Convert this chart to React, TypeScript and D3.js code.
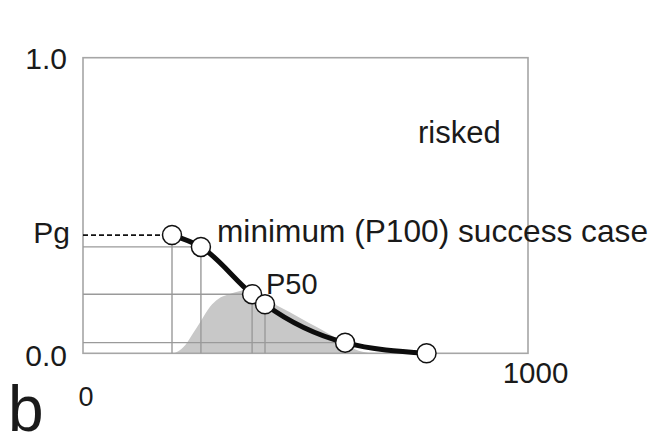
import React from "react";
import * as d3 from "d3";

// Data
const pointX = [200, 265, 380, 409, 589, 772];
const pointY = [0.4, 0.36, 0.2, 0.166, 0.036, 0];
const guideHorizontal = [1, 2, 4];
const guideVertical = [0, 1, 2, 3, 4];
const densityX = [206, 211, 230, 247, 266, 285, 304, 323, 340, 353, 365, 371, 390, 409, 437, 465, 493, 521, 550, 578, 595, 611, 628, 645];
const densityY = [0, 0.004, 0.028, 0.067, 0.112, 0.157, 0.184, 0.197, 0.206, 0.211, 0.214, 0.214, 0.201, 0.183, 0.161, 0.139, 0.115, 0.092, 0.068, 0.044, 0.028, 0.014, 0.005, 0];
const yTickLabels = ["0.0", "1.0"];
const yTickValues = [0, 1];
const xTickLabels = ["0", "1000"];
const pgLabel = "Pg";
const minLabel = "minimum (P100) success case";
const p50Label = "P50";
const riskedLabel = "risked";
const panelLabel = "b";

const W = 655;
const H = 435;
const FONT = "'Liberation Sans', Arial, sans-serif";

export default function App() {
  const x = d3.scaleLinear().domain([0, 1000]).range([83, 528]);
  const y = d3.scaleLinear().domain([0, 1]).range([353.3, 57.7]);

  const pts = pointX.map((v, i) => [v, pointY[i]] as [number, number]);
  const curve = d3
    .line<[number, number]>()
    .x((d) => x(d[0]))
    .y((d) => y(d[1]))
    .curve(d3.curveMonotoneX)(pts) as string;

  const dens = densityX.map((v, i) => [v, densityY[i]] as [number, number]);
  const area = d3
    .area<[number, number]>()
    .x((d) => x(d[0]))
    .y0(y(0))
    .y1((d) => y(d[1]))
    .curve(d3.curveMonotoneX)(dens) as string;

  const gridColor = "#9a9a9a";
  const textColor = "#1a1a1a";

  return (
    <svg
      width={W}
      height={H}
      style={{ position: "absolute", left: 0, top: 0, background: "#fff" }}
      fontFamily={FONT}
    >
      <rect x={0} y={0} width={W} height={H} fill="#fff" />
      {/* density */}
      <path d={area} fill="#c8c8c8" stroke="none" />

      {/* frame */}
      <rect
        x={x(0)}
        y={y(1)}
        width={x(1000) - x(0)}
        height={y(0) - y(1)}
        fill="none"
        stroke="#a6a6a6"
        strokeWidth={1.6}
      />

      {/* guide lines */}
      {guideHorizontal.map((i) => (
        <line
          key={"h" + i}
          x1={x(0)}
          x2={x(pointX[i])}
          y1={y(pointY[i])}
          y2={y(pointY[i])}
          stroke={gridColor}
          strokeWidth={1.4}
        />
      ))}
      {guideVertical.map((i) => (
        <line
          key={"v" + i}
          x1={x(pointX[i])}
          x2={x(pointX[i])}
          y1={y(pointY[i])}
          y2={y(0)}
          stroke={gridColor}
          strokeWidth={1.4}
        />
      ))}

      {/* Pg dashed line */}
      <line
        x1={x(0)}
        x2={x(pointX[0])}
        y1={y(pointY[0])}
        y2={y(pointY[0])}
        stroke="#111"
        strokeWidth={1.8}
        strokeDasharray="5,3"
      />

      {/* curve */}
      <path d={curve} fill="none" stroke="#0d0d0d" strokeWidth={5} strokeLinecap="round" />

      {/* circles */}
      {pts.map((d, i) => (
        <circle key={i} cx={x(d[0])} cy={y(d[1])} r={9.5} fill="#fff" stroke="#111" strokeWidth={1.5} />
      ))}

      {/* y tick labels */}
      {yTickValues.map((v, i) => (
        <text
          key={"yt" + i}
          x={67}
          y={y(v) + (i === 0 ? 12.7 : 11.6)}
          textAnchor="end"
          fontSize={30}
          fill={textColor}
        >
          {yTickLabels[i]}
        </text>
      ))}
      <text x={70} y={242.7} textAnchor="end" fontSize={30} fill={textColor}>
        {pgLabel}
      </text>

      {/* x tick labels */}
      <text x={86} y={406} textAnchor="middle" fontSize={27} fill={textColor}>
        {xTickLabels[0]}
      </text>
      <text x={535.5} y={383.3} textAnchor="middle" fontSize={29.5} fill={textColor}>
        {xTickLabels[1]}
      </text>

      {/* annotations */}
      <text x={217} y={241.7} fontSize={31.5} fill={textColor} textLength={431} lengthAdjust="spacingAndGlyphs">
        {minLabel}
      </text>
      <text x={266} y={294} fontSize={29} fill={textColor}>
        {p50Label}
      </text>
      <text x={418} y={142.7} fontSize={31} fill={textColor}>
        {riskedLabel}
      </text>
      <text x={8} y={431} fontSize={64} fill={textColor}>
        {panelLabel}
      </text>
    </svg>
  );
}
